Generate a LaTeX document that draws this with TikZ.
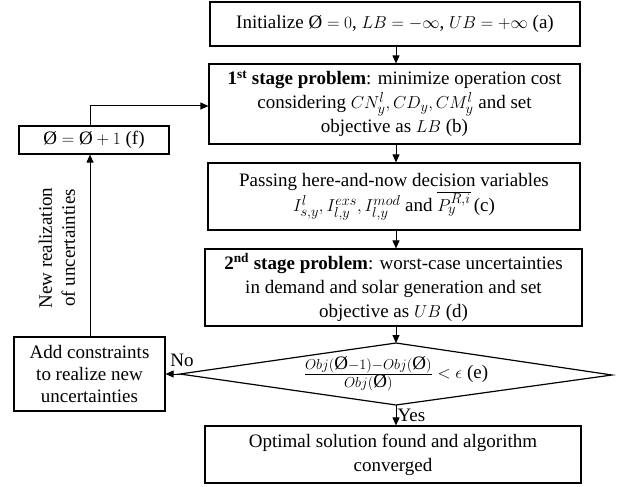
\documentclass[tikz,border=0pt]{standalone}
\usepackage{fontspec}
\setmainfont{Liberation Serif}
\usetikzlibrary{arrows.meta}
\newcommand{\Oslash}{\textup{Ø}}
\begin{document}
\begin{tikzpicture}[x=1pt,y=-1pt,
  box/.style={draw,line width=1.2pt,align=center,inner sep=2pt,
    font=\fontsize{19}{24}\selectfont},
  lab/.style={font=\fontsize{19}{23}\selectfont,inner sep=1pt},
  arr/.style={line width=1pt,-{Triangle[length=8pt,width=7pt]}},
  ln/.style={line width=1pt}]
\useasboundingbox (0,0) rectangle (622,487);
\node[box,minimum width=370pt,minimum height=44pt] (a) at (395,24)
  {Initialize $\Oslash=0$, $LB=-\infty$, $UB=+\infty$ (a)};
\node[box,minimum width=371pt,minimum height=80pt] (b) at (394.5,104)
  {\textbf{1\textsuperscript{st} stage problem}: minimize operation cost\\
   considering $CN_y^l, CD_y, CM_y^l$ and set\\
   objective as $LB$ (b)};
\node[box,minimum width=372pt,minimum height=67pt] (c) at (394,196.5)
  {Passing here-and-now decision variables\\
   $I_{s,y}^{l}, I_{l,y}^{exs}, I_{l,y}^{mod}$ and $\overline{P_y^{R,i}}$\,(c)};
\node[box,minimum width=377pt,minimum height=77pt] (d) at (393.5,287.5)
  {\textbf{2\textsuperscript{nd} stage problem}: worst-case uncertainties\\
   in demand and solar generation and set\\
   objective as $UB$ (d)};
\coordinate (eL) at (180,374);
\coordinate (eT) at (396,343);
\coordinate (eR) at (612,375);
\coordinate (eB) at (396,405);
\draw[line width=1.2pt] (eL) -- (eT) -- (eR) -- (eB) -- cycle;
\node[lab] (e) at (396,374)
  {$\frac{Obj(\Oslash-1)-Obj(\Oslash)}{Obj(\Oslash)}<\epsilon$ (e)};
\node[box,minimum width=376pt,minimum height=57pt] (opt) at (393,454.5)
  {Optimal solution found and algorithm\\ converged};
\node[box,minimum width=150pt,minimum height=28pt] (f) at (94,140)
  {$\Oslash=\Oslash+1$ (f)};
\node[box,minimum width=151pt,minimum height=74pt,font=\fontsize{19}{22}\selectfont] (add) at (89.5,374)
  {Add constraints\\ to realize new\\ uncertainties};
\node[lab,rotate=90,align=center] (nr) at (57,248)
  {New realization\\ of uncertainties};
\draw[arr] (a.south -| eT) -- (b.north -| eT);
\draw[arr] (b.south -| eT) -- (c.north -| eT);
\draw[arr] (c.south -| eT) -- (d.north -| eT);
\draw[arr] (d.south -| eT) -- (eT);
\draw[arr] (eB) -- (opt.north -| eB) node[lab,midway,right] (yes) {Yes};
\draw[arr] (eL) -- (add.east) node[lab,midway,above right,xshift=-4pt,yshift=6pt] (no) {No};
\draw[arr] (add.north -| 90,0) -- (f.south -| 90,0);
\draw[arr] (f.north -| 90,0) |- (b.west |- 0,106);
\end{tikzpicture}
\end{document}
